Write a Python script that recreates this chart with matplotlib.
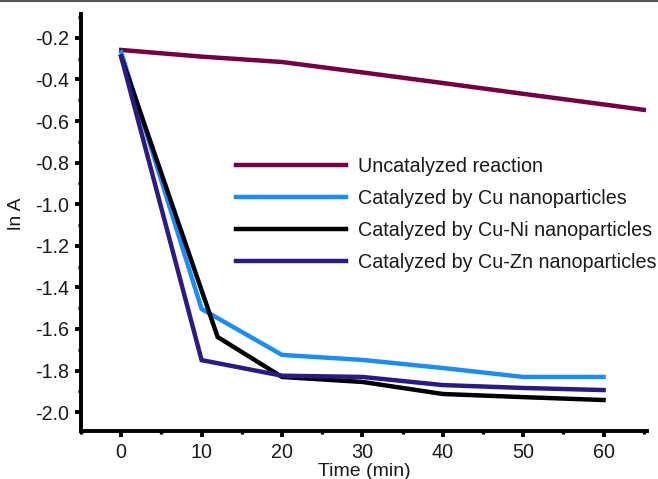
import matplotlib
matplotlib.use("Agg")
import matplotlib.pyplot as plt
from matplotlib.lines import Line2D
from matplotlib.ticker import MultipleLocator, FormatStrFormatter

plt.rcParams['font.family'] = ['Liberation Sans', 'DejaVu Sans']

# values (ln A against time in min)
t_uncat = [0, 10, 20, 30, 40, 50, 60, 65]
lnA_uncat = [-0.258, -0.29, -0.316, -0.366, -0.417, -0.469, -0.52, -0.546]

t_cu = [0, 10, 20, 30, 40, 50, 60]
lnA_cu = [-0.27, -1.504, -1.725, -1.749, -1.788, -1.831, -1.831]

t_cuni = [0, 12, 20, 30, 40, 50, 60]
lnA_cuni = [-0.29, -1.639, -1.831, -1.855, -1.913, -1.928, -1.942]

t_cuzn = [0, 10, 20, 30, 40, 50, 60]
lnA_cuzn = [-0.29, -1.75, -1.825, -1.831, -1.87, -1.884, -1.894]

labels = ["Uncatalyzed reaction", "Catalyzed by Cu nanoparticles",
          "Catalyzed by Cu-Ni nanoparticles", "Catalyzed by Cu-Zn nanoparticles"]
colors = ["#740043", "#1a8ef8", "#000000", "#2c1886"]

W, H = 658, 479
fig = plt.figure(figsize=(W / 100, H / 100), dpi=100)
ax = fig.add_axes([81 / W, (H - 431) / H, (647 - 81) / W, (431 - 14) / H])

series = [(t_uncat, lnA_uncat), (t_cu, lnA_cu), (t_cuni, lnA_cuni), (t_cuzn, lnA_cuzn)]
for (t, y), lab, c in zip(series, labels, colors):
    ax.plot(t, y, color=c, lw=3.2, label=lab, solid_joinstyle='miter')

ax.set_xlim(-5, 65.4)
ax.set_ylim(-2.091, -0.085)

ax.xaxis.set_major_locator(MultipleLocator(10))
ax.xaxis.set_minor_locator(MultipleLocator(5))
ax.yaxis.set_major_locator(MultipleLocator(0.2))
ax.yaxis.set_minor_locator(MultipleLocator(0.1))
ax.yaxis.set_major_formatter(FormatStrFormatter('%.1f'))

for s in ['top', 'right']:
    ax.spines[s].set_visible(False)
for s in ['left', 'bottom']:
    ax.spines[s].set_linewidth(2.8)

ax.tick_params(which='major', direction='out', length=4.5, width=2.8,
               labelsize=14.2, pad=4, color='black', labelcolor='#1a1a1a')
ax.tick_params(which='minor', direction='out', length=2.5, width=2.4)

ax.set_xlabel("Time (min)", fontsize=14, labelpad=1, color='#1a1a1a')
ax.set_ylabel("ln A", fontsize=14, color='#1a1a1a')
ax.yaxis.set_label_coords(-0.099, 0.52)

leg = ax.legend(loc='upper left', bbox_to_anchor=((236 - 81) / 566, (431 - 157) / 417),
                frameon=False, fontsize=14.2, handlelength=5.6, handletextpad=0.6,
                labelspacing=0.66, borderaxespad=0, borderpad=0)
for txt in leg.get_texts():
    txt.set_color('#1a1a1a')

# thin grey rule along the top edge of the picture
fig.add_artist(Line2D([0, 1], [0.998, 0.998], transform=fig.transFigure,
                      color='#555555', lw=1.5))

fig.savefig("out.png", dpi=100)
